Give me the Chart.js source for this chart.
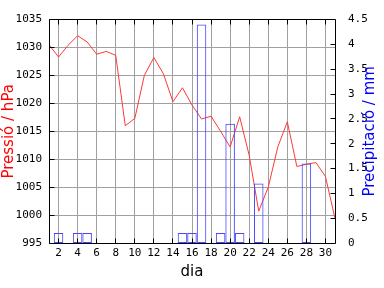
<!DOCTYPE html>
<html>
<head>
<meta charset="utf-8">
<script src="https://cdn.jsdelivr.net/npm/chart.js@4/dist/chart.umd.min.js"></script>
<style>
  html, body { margin: 0; padding: 0; background: #ffffff; }
  canvas { display: block; }
</style>
</head>
<body>
<canvas id="c" width="384" height="288"></canvas>
<script>
// ---- data ----
const pressureDays = [1,2,3,4,5,6,7,8,9,10,11,12,13,14,15,16,17,18,19,20,21,22,23,24,25,26,27,28,29,30,31];
const pressure = [1030.5,1028.3,1030.4,1032.1,1031.0,1028.8,1029.3,1028.6,1016.0,1017.3,
                  1025.0,1028.2,1025.3,1020.3,1022.8,1019.7,1017.2,1017.7,1015.0,1012.2,
                  1017.6,1010.7,1000.7,1005.0,1012.2,1016.7,1008.7,1009.1,1009.4,1006.9,999.4];
const precipDays = [1,2,3,4,5,6,7,8,9,10,11,12,13,14,15,16,17,18,19,20,21,22,23,24,25,26,27,28,29,30];
const precip = [0,0.2,0,0.2,0.2,0,0,0,0,0,0,0,0,0,0.2,0.2,4.4,0,0.2,2.4,0.2,0,1.2,0,0,0,0,1.6,0,0];
const xTickLabels = [2,4,6,8,10,12,14,16,18,20,22,24,26,28,30];

const xLabel = 'dia';
const leftLabel = 'Pressió / hPa';
const rightLabel = 'Precipitació / mm';

const monoFont = { family: 'DejaVu Sans Mono', size: 11 };
const titleFont = { family: 'DejaVu Sans', size: 15 };
const gridColor = '#a0a0a0';

const lineData = pressureDays.map((d, i) => ({ x: d, y: pressure[i] }));
const barData = precipDays.map((d, i) => ({ x: d, y: precip[i] })).filter(p => p.y > 0);

function align(px) { return Math.round(px - 0.5) + 0.5; }

const framePlugin = {
  id: 'frame',
  afterDraw(chart) {
    const { ctx, chartArea: a, scales } = chart;
    const L = Math.floor(a.left) + 0.5, R = Math.floor(a.right) + 0.5;
    const T = Math.floor(a.top) + 0.5, B = Math.floor(a.bottom) + 0.5;
    const len = 5;
    ctx.save();
    ctx.strokeStyle = '#000000';
    ctx.lineWidth = 1;
    ctx.beginPath();
    ctx.rect(L, T, R - L, B - T);
    scales.x.ticks.forEach(t => {
      const p = align(scales.x.getPixelForValue(t.value));
      ctx.moveTo(p, B); ctx.lineTo(p, B - len);
      ctx.moveTo(p, T); ctx.lineTo(p, T + len);
    });
    scales.y.ticks.forEach(t => {
      const p = align(scales.y.getPixelForValue(t.value));
      ctx.moveTo(L, p); ctx.lineTo(L + len, p);
    });
    scales.y2.ticks.forEach(t => {
      const p = align(scales.y2.getPixelForValue(t.value));
      ctx.moveTo(R, p); ctx.lineTo(R - len, p);
    });
    ctx.stroke();
    // right axis title, reading bottom-to-top
    ctx.translate(370, (a.top + a.bottom) / 2);
    ctx.rotate(-Math.PI / 2);
    ctx.font = titleFont.size + 'px "' + titleFont.family + '"';
    ctx.fillStyle = '#0000ff';
    ctx.textAlign = 'center';
    ctx.textBaseline = 'middle';
    ctx.fillText(rightLabel, 0, 0);
    ctx.restore();
  }
};

new Chart(document.getElementById('c'), {
  type: 'bar',
  data: {
    datasets: [
      {
        type: 'line',
        label: 'Pressió',
        data: lineData,
        yAxisID: 'y',
        borderColor: '#ff3838',
        borderWidth: 1,
        pointRadius: 0,
        tension: 0,
        fill: false,
        order: 2
      },
      {
        type: 'bar',
        label: 'Precipitació',
        data: barData,
        yAxisID: 'y2',
        backgroundColor: 'rgba(0,0,0,0)',
        borderColor: '#4848ff',
        borderWidth: 1,
        borderSkipped: false,
        inflateAmount: 0,
        barPercentage: 1,
        categoryPercentage: 1,
        order: 1
      }
    ]
  },
  options: {
    responsive: false,
    animation: false,
    devicePixelRatio: 1,
    layout: { padding: { top: 14, left: 0, right: 0, bottom: 0 } },
    plugins: { legend: { display: false }, tooltip: { enabled: false } },
    scales: {
      x: {
        type: 'linear',
        position: 'bottom',
        min: 1,
        max: 31,
        offset: false,
        afterBuildTicks: (s) => { s.ticks = xTickLabels.map(v => ({ value: v })); },
        afterFit: (s) => { s.height = 45; },
        grid: { color: gridColor, lineWidth: 1, drawTicks: false, offset: false },
        border: { display: false },
        ticks: {
          font: monoFont, color: '#000000', padding: 4,
          maxRotation: 0, autoSkip: false,
          callback: (v) => String(v)
        },
        title: { display: true, text: xLabel, font: titleFont, color: '#000000', padding: { top: 0, bottom: 7 } }
      },
      y: {
        type: 'linear',
        position: 'left',
        min: 995,
        max: 1035,
        afterFit: (s) => { s.width = 49; },
        grid: { color: gridColor, lineWidth: 1, drawTicks: false },
        border: { display: false },
        ticks: { stepSize: 5, font: monoFont, color: '#000000', padding: 7, callback: (v) => String(v) },
        title: { display: true, text: leftLabel, font: titleFont, color: '#ff0000', padding: { top: 0, bottom: 0 } }
      },
      y2: {
        type: 'linear',
        position: 'right',
        min: 0,
        max: 4.5,
        afterFit: (s) => { s.width = 49; },
        grid: { display: false, drawOnChartArea: false, drawTicks: false },
        border: { display: false },
        ticks: { stepSize: 0.5, font: monoFont, color: '#000000', padding: 13, callback: (v) => String(v) }
      }
    }
  },
  plugins: [framePlugin]
});
</script>
</body>
</html>
